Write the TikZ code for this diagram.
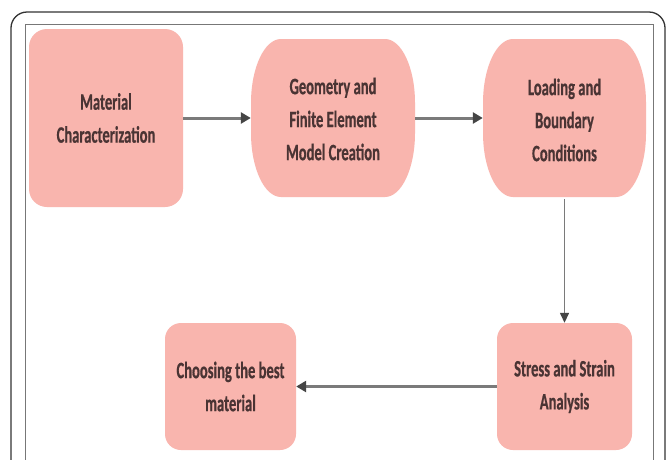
\documentclass[tikz,border=0pt]{standalone}
\usepackage{fontspec}
\newfontfamily\boxfont[FakeStretch=0.62,BoldFeatures={FakeBold=0.6}]{Carlito}
\usetikzlibrary{arrows.meta}
\definecolor{boxfill}{HTML}{F9B5AE}
\definecolor{boxtext}{HTML}{4A3434}
\definecolor{arrowgray}{HTML}{7A7A7A}
\definecolor{headgray}{HTML}{454545}
\definecolor{framegray}{HTML}{777777}
\tikzset{
  stepbox/.style={draw=none, fill=boxfill, align=center, text=boxtext,
    font=\boxfont\bfseries\fontsize{23.5}{33}\selectfont, inner sep=0pt},
  ovalbox/.style={draw=none, fill=none, align=center, text=boxtext,
    font=\boxfont\bfseries\fontsize{23.5}{33}\selectfont, inner sep=0pt},
  flow/.style={draw=arrowgray, line width=3pt,
    -{Triangle[length=10pt,width=11pt,fill=headgray,color=headgray]}},
  flowthin/.style={draw=arrowgray, line width=1.4pt,
    -{Triangle[length=10pt,width=9pt,fill=headgray,color=headgray]}},
}
% oval-sided box: #1 = centre x, #2 = centre y, #3 = half width, #4 = half height
\newcommand\ovalfill[4]{%
  \fill[boxfill] (#1-#3+30,#2-#4)
    -- (#1+#3-30,#2-#4) arc[start angle=-90,end angle=0,x radius=30,y radius=64]
    -- (#1+#3,#2+#4-64) arc[start angle=0,end angle=90,x radius=30,y radius=64]
    -- (#1-#3+30,#2+#4) arc[start angle=90,end angle=180,x radius=30,y radius=64]
    -- (#1-#3,#2-#4+64) arc[start angle=180,end angle=270,x radius=30,y radius=64]
    -- cycle;}
\begin{document}
\begin{tikzpicture}[x=1pt,y=-1pt]
\clip (0,0) rectangle (668,459);
\fill[white] (0,0) rectangle (668,459);
% frames
\draw[color=black!80, line width=1.3pt, rounded corners=16pt] (11,12) rectangle (665,490);
\draw[color=framegray, line width=1pt] (25,24) rectangle (653,490);
% oval-sided box backgrounds
\ovalfill{333}{118}{82}{79}
\ovalfill{564.5}{118}{81.5}{79}
% boxes
\node[stepbox, rounded corners=18pt, minimum width=154pt, minimum height=178pt] (mat) at (106,118) {Material\\Characterization};
\node[ovalbox, minimum width=164pt, minimum height=158pt] (geo) at (333,119) {Geometry and\\Finite Element\\Model Creation};
\node[ovalbox, minimum width=163pt, minimum height=158pt] (load) at (564.5,120) {Loading and\\Boundary\\Conditions};
\node[stepbox, rounded corners=16pt, minimum width=135pt, minimum height=127pt] (stress) at (564.5,386.5) {Stress and Strain\\Analysis};
\node[stepbox, rounded corners=16pt, minimum width=131pt, minimum height=127pt] (choose) at (230.5,386.5) {Choosing the best\\material};
% connectors
\draw[flow] (mat.east) -- (mat.east -| geo.west);
\draw[flow] (geo.east |- mat.east) -- (mat.east -| load.west);
\draw[flowthin] (load.south) -- (stress.north);
\draw[flow] (stress.west) -- (choose.east);
\end{tikzpicture}
\end{document}
